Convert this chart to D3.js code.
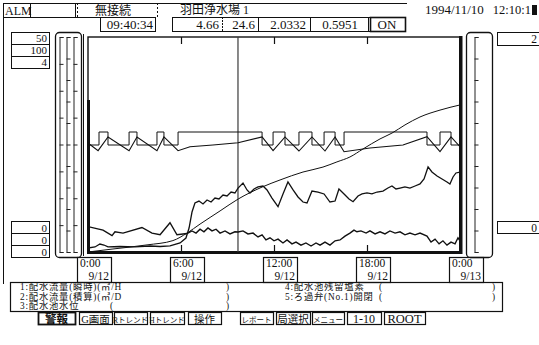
<!DOCTYPE html>
<html><head><meta charset="utf-8">
<script src="https://cdn.jsdelivr.net/npm/d3@7"></script>
<style>
body{margin:0;background:#fff;}
svg{display:block;}
text{font-family:"Liberation Serif","Noto Sans CJK JP",serif;fill:#111;}
</style></head><body>
<svg id="c" width="539" height="345"></svg>
<script>
// ---------------- data ----------------
const timeTicks = [0, 6, 12, 18, 24];
const timeLabels = ["0:00", "6:00", "12:00", "18:00", "0:00"];
const dateLabels = ["9/12", "9/12", "9/12", "9/12", "9/13"];
const cursorHour = 9 + 40 / 60 + 34 / 3600;
const cursorText = "09:40:34";
const cursorValues = ["4.66", "24.6", "2.0332", "0.5951", "ON"];
const headerDate = "1994/11/10";
const headerTime = "12:10:1";
const stationName = "羽田浄水場 1";
const linkStatus = "無接続";
const leftMax = [50, 100, 4];
const leftMin = [0, 0, 0];
const rightMax = [2];
const rightMin = [0];
const legendLeft = ["1:配水流量(瞬時)(㎥/H", "2:配水流量(積算)(㎥/D", "3:配水池水位"];
const legendRight = ["4:配水池残留塩素", "5:ろ過弁(No.1)開閉"];
const buttons = ["警報", "G画面", "Rトレンド", "Hトレンド", "操作", "レポート", "局選択", "メニュー", "1-10", "ROOT"];

// 1: instantaneous flow (0-50)
const flowInstant = [[0,5.9],[0.97,5.1],[1.55,3.8],[1.74,4.7],[2.26,4.4],[3.48,5.7],[4.13,4.4],[4.65,4.0],[5.29,6.8],[5.74,4.0],[6.39,4.3],[6.71,4.9],[6.97,4.4],[7.23,5.3],[7.48,4.7],[7.74,5.6],[8.0,4.9],[8.26,5.3],[8.52,4.4],[8.84,4.9],[9.16,4.2],[9.48,4.7],[9.68,4.66],[10.0,4.9],[10.32,4.2],[10.65,4.4],[10.97,3.5],[11.23,4.0],[11.48,2.8],[11.74,3.3],[12.0,2.6],[12.26,3.0],[12.58,2.1],[12.84,2.8],[13.16,1.9],[13.42,2.3],[13.74,1.6],[14.06,2.1],[14.39,1.4],[14.71,2.1],[14.97,1.6],[15.29,2.3],[15.61,1.6],[15.94,2.6],[16.26,2.8],[16.58,3.7],[16.9,4.4],[17.16,5.1],[17.35,4.7],[17.61,4.9],[17.94,4.4],[18.19,4.9],[18.52,4.2],[18.84,4.7],[19.16,4.2],[19.48,4.9],[19.81,4.4],[20.13,4.7],[20.45,4.0],[20.77,4.4],[21.1,4.0],[21.42,4.4],[21.87,3.7],[22.13,2.3],[22.39,3.0],[22.65,1.9],[22.9,2.6],[23.16,1.6],[23.42,2.3],[23.68,1.9],[23.87,3.3],[24,2.6]];
// 2: totalised flow (0-100)
const flowTotal = [[0,0],[1.61,1.4],[3.81,3.3],[5.48,5.3],[6.39,8.8],[7.23,13.0],[8.52,19.1],[9.68,24.6],[11.23,30.2],[12.39,33.5],[13.87,37.2],[15.16,39.5],[16.06,41.9],[16.9,44.2],[17.74,47.9],[18.84,52.6],[19.61,55.3],[20.45,59.1],[21.42,62.8],[22.71,66.0],[24,68.4]];
// 3: reservoir level (0-4)
const reservoirLevel = [[0,2.028],[0.65,1.885],[1.29,2.14],[2.65,1.885],[3.16,2.14],[4.45,1.885],[4.9,2.14],[5.81,1.885],[6.58,1.959],[8.06,1.991],[9.68,2.033],[11.23,2.14],[11.94,1.885],[12.71,2.14],[13.61,1.879],[14.45,2.14],[15.29,1.879],[15.94,2.14],[16.52,1.866],[18.19,1.935],[20.32,1.991],[21.87,2.145],[22.71,1.866],[23.42,2.14],[24,1.959]];
// 4: residual chlorine (0-2)
const chlorine = [[0,0.037],[0.45,0.047],[0.77,0.074],[1.03,0.065],[1.29,0.047],[2.06,0.051],[3.03,0.047],[4.0,0.056],[4.65,0.051],[5.29,0.056],[5.94,0.084],[6.32,0.13],[6.52,0.223],[6.71,0.372],[6.9,0.456],[7.16,0.474],[7.42,0.447],[7.68,0.484],[7.94,0.465],[8.19,0.502],[8.45,0.493],[8.71,0.53],[8.97,0.521],[9.23,0.558],[9.48,0.549],[9.68,0.595],[10.0,0.642],[10.26,0.577],[10.45,0.549],[10.71,0.586],[10.97,0.605],[11.29,0.614],[11.55,0.577],[11.87,0.502],[12.26,0.421],[12.58,0.54],[12.9,0.651],[13.23,0.577],[13.55,0.512],[13.87,0.465],[14.13,0.456],[14.45,0.567],[14.84,0.558],[15.23,0.54],[15.61,0.465],[15.94,0.474],[16.19,0.586],[16.52,0.54],[16.84,0.493],[17.1,0.468],[17.42,0.521],[17.68,0.54],[18.0,0.549],[18.32,0.54],[18.65,0.558],[19.03,0.567],[19.35,0.595],[19.61,0.614],[19.87,0.586],[20.13,0.595],[20.45,0.605],[20.77,0.595],[21.1,0.614],[21.42,0.633],[21.68,0.679],[21.94,0.791],[22.19,0.744],[22.52,0.707],[22.84,0.679],[23.16,0.651],[23.35,0.633],[23.55,0.698],[23.74,0.735],[24,0.744]];
// 5: filter valve open/close (0/1)
const valveState = [[0,0],[0.71,1],[1.29,0],[2.65,1],[3.16,0],[4.45,1],[4.9,0],[5.81,1],[11.23,0],[11.94,1],[12.71,0],[13.61,1],[14.45,0],[15.23,1],[15.94,0],[16.52,1],[21.87,0],[22.71,1],[23.42,0],[24,0]];

// ---------------- drawing ----------------
const svg = d3.select("#c");
const P = {l: 88, r: 460, t: 37, b: 252};
const ink = "#111";

const x = d3.scaleLinear().domain([0, 24]).range([P.l, P.r]);
const yFlow = d3.scaleLinear().domain([leftMin[0], leftMax[0]]).range([P.b, P.t]);
const yTotal = d3.scaleLinear().domain([leftMin[1], leftMax[1]]).range([P.b, P.t]);
const yLevel = d3.scaleLinear().domain([leftMin[2], leftMax[2]]).range([P.b, P.t]);
const yChl = d3.scaleLinear().domain([rightMin[0], rightMax[0]]).range([P.b, P.t]);
const yValve = d3.scaleLinear().domain([0, 1]).range([145, 132]);

function box(g, x0, y0, w, h, sw) {
  return g.append("rect").attr("x", x0 + 0.5).attr("y", y0 + 0.5).attr("width", w).attr("height", h)
    .attr("fill", "none").attr("stroke", ink).attr("stroke-width", sw || 1);
}
function hl(g, x1, x2, yy, sw, dash) {
  const l = g.append("line").attr("x1", x1).attr("x2", x2).attr("y1", yy + 0.5).attr("y2", yy + 0.5)
    .attr("stroke", ink).attr("stroke-width", sw || 1);
  if (dash) l.attr("stroke-dasharray", dash);
  return l;
}
function vl(g, xx, y1, y2, sw, dash) {
  const l = g.append("line").attr("x1", xx + 0.5).attr("x2", xx + 0.5).attr("y1", y1).attr("y2", y2)
    .attr("stroke", ink).attr("stroke-width", sw || 1);
  if (dash) l.attr("stroke-dasharray", dash);
  return l;
}
function txt(g, s, xx, yy, size, anchor) {
  return g.append("text").attr("x", xx).attr("y", yy).attr("font-size", size)
    .attr("text-anchor", anchor || "start").text(s);
}

// ---- header ----
const hd = svg.append("g");
vl(hd, 3, 3, 284, 1);
hl(hd, 3, 407, 3, 1);
box(hd, 3, 3, 27, 14);
txt(hd, "ALM", 5, 15, 12);
vl(hd, 75, 3, 17, 1);
vl(hd, 77, 3, 17, 1, "2,2");
vl(hd, 157, 3, 17, 1, "2,2");
hl(hd, 3, 100, 17, 1);
txt(hd, linkStatus, 95, 14.5, 12);
txt(hd, stationName, 180, 14, 12);
txt(hd, headerDate, 425, 14, 13);
txt(hd, headerTime, 531, 14, 12.5, "end");
hd.append("rect").attr("x", 532).attr("y", 5).attr("width", 5).attr("height", 10).attr("fill", ink);

// cursor value row
box(hd, 100, 17, 55, 14);
txt(hd, cursorText, 153, 29, 13, "end");
box(hd, 172, 17, 233, 14);
const valEnds = [219, 255, 306, 358];
const seps = [[222, "2,1"], [258, null], [310, null], [368, null]];
seps.forEach(s => vl(hd, s[0], 17, 32, 1, s[1]));
cursorValues.slice(0, 4).forEach((v, i) => txt(hd, v, valEnds[i], 29, 13, "end"));
box(hd, 370, 17, 35, 14, 1.6);
txt(hd, cursorValues[4], 387, 29, 13, "middle");

// ---- left / right scale value boxes ----
const lb = svg.append("g");
leftMax.forEach((v, i) => { box(lb, 11, 32 + i * 12, 38, 12); txt(lb, v, 47, 42 + i * 12, 11, "end"); });
leftMin.forEach((v, i) => { box(lb, 11, 221 + i * 12, 38, 12); txt(lb, v, 47, 231.5 + i * 12, 11, "end"); });
rightMax.forEach((v, i) => { box(lb, 497, 32 + i * 13, 50, 13); txt(lb, v, 537, 43 + i * 13, 11.5, "end"); });
rightMin.forEach((v, i) => { box(lb, 497, 221 + i * 12, 50, 12); txt(lb, v, 537, 231.5 + i * 12, 11.5, "end"); });

// ---- axis panels ----
const ap = svg.append("g");
ap.append("rect").attr("x", 55.5).attr("y", 32.5).attr("width", 26).attr("height", 225).attr("rx", 4)
  .attr("fill", "none").attr("stroke", ink).attr("stroke-width", 1.3);
ap.append("rect").attr("x", 466.5).attr("y", 32.5).attr("width", 26).attr("height", 225).attr("rx", 4)
  .attr("fill", "none").attr("stroke", ink).attr("stroke-width", 1.3);
const leftScales = [yFlow, yTotal, yLevel];
const leftDivs = [8, 10, 8];
const leftAxX = [59.5, 66.5, 73.5];
leftScales.forEach((s, i) => {
  const d = s.domain();
  const tv = d3.range(0, leftDivs[i] + 1).map(k => d[0] + (d[1] - d[0]) * k / leftDivs[i]);
  const g = ap.append("g").attr("transform", `translate(${leftAxX[i]},0)`)
    .call(d3.axisRight(s).tickValues(tv).tickSize(4).tickSizeOuter(4).tickFormat(""));
  g.selectAll("path,line").attr("stroke", "#222").attr("stroke-width", 1);
});
{
  const d = yChl.domain();
  const tv = d3.range(0, 11).map(k => d[0] + (d[1] - d[0]) * k / 10);
  const g = ap.append("g").attr("transform", "translate(474.5,0)")
    .call(d3.axisRight(yChl).tickValues(tv).tickSize(4).tickSizeOuter(4).tickFormat(""));
  g.selectAll("path,line").attr("stroke", "#222").attr("stroke-width", 1);
}

// ---- plot ----
const pg = svg.append("g");
pg.append("rect").attr("x", P.l).attr("y", P.t).attr("width", P.r - P.l).attr("height", P.b - P.t)
  .attr("fill", "none").attr("stroke", ink).attr("stroke-width", 1.4);
vl(pg, 83, 34, 256, 1);
pg.append("rect").attr("x", P.l - 1).attr("y", 100).attr("width", 3).attr("height", P.b - 100).attr("fill", ink);
pg.append("rect").attr("x", P.r - 1).attr("y", P.t - 1).attr("width", 3.5).attr("height", P.b - P.t + 3).attr("fill", ink);
pg.append("rect").attr("x", P.l - 1).attr("y", P.b - 1).attr("width", P.r - P.l + 3).attr("height", 3).attr("fill", ink);

const inner = [6, 12, 18];
pg.append("g").attr("transform", `translate(0,${P.t})`)
  .call(d3.axisBottom(x).tickValues(inner).tickSize(7).tickFormat(""))
  .call(g => g.select(".domain").remove()).selectAll("line").attr("stroke", ink).attr("stroke-width", 1.2);
pg.append("g").attr("transform", `translate(0,${P.b})`)
  .call(d3.axisTop(x).tickValues(inner).tickSize(7).tickFormat(""))
  .call(g => g.select(".domain").remove()).selectAll("line").attr("stroke", ink).attr("stroke-width", 1.2);

pg.append("line").attr("x1", x(cursorHour)).attr("x2", x(cursorHour)).attr("y1", P.t).attr("y2", P.b)
  .attr("stroke", "#3a3a3a").attr("stroke-width", 1.2);

svg.append("clipPath").attr("id", "clp").append("rect")
  .attr("x", P.l).attr("y", P.t).attr("width", P.r - P.l).attr("height", P.b - P.t);
const lg = svg.append("g").attr("clip-path", "url(#clp)");
const mk = (ys, curve) => d3.line().x(d => x(d[0])).y(d => ys(d[1])).curve(curve || d3.curveLinear);
lg.append("path").attr("d", mk(yValve, d3.curveStepAfter)(valveState)).attr("fill", "none").attr("stroke", ink).attr("stroke-width", 1);
lg.append("path").attr("d", mk(yLevel)(reservoirLevel)).attr("fill", "none").attr("stroke", ink).attr("stroke-width", 1.1);
lg.append("path").attr("d", mk(yTotal, d3.curveMonotoneX)(flowTotal)).attr("fill", "none").attr("stroke", ink).attr("stroke-width", 1);
lg.append("path").attr("d", mk(yChl)(chlorine)).attr("fill", "none").attr("stroke", ink).attr("stroke-width", 1.3);
lg.append("path").attr("d", mk(yFlow)(flowInstant)).attr("fill", "none").attr("stroke", ink).attr("stroke-width", 1.4);

// ---- time labels ----
const tl = svg.append("g");
timeTicks.forEach((t, i) => {
  const cx = x(t);
  box(tl, cx - 11, 257, 34, 25, 1.2);
  txt(tl, timeLabels[i], cx - 8, 266.5, 11.5);
  txt(tl, dateLabels[i], cx + 21, 279.8, 11.5, "end");
});

// ---- legend ----
const lgd = svg.append("g");
const LF = 9.3, L0 = 290, LS = 9.5;
box(lgd, 10, 282, 492, 29, 1.2);
legendLeft.forEach((s, i) => txt(lgd, s, 20, L0 + i * LS, LF).attr("letter-spacing", 0.8));
[0, 1, 2].forEach(i => txt(lgd, ")", 226, L0 + i * LS, LF));
txt(lgd, "(", 110, L0 + 2 * LS, LF);
legendRight.forEach((s, i) => {
  txt(lgd, s, 285, L0 + i * LS, LF).attr("letter-spacing", 0.8);
  txt(lgd, "(", 379, L0 + i * LS, LF);
  txt(lgd, ")", 492, L0 + i * LS, LF);
});

// ---- buttons ----
const bx = [[38, 37], [79, 33], [114, 33], [150, 34], [188, 33], [240, 33], [276, 34], [312, 32], [347, 34], [384, 41]];
const bsz = [11.5, 10.5, 7.5, 7.5, 10.5, 7.5, 10.5, 7.5, 12, 12.5];
const bt = svg.append("g");
buttons.forEach((b, i) => {
  box(bt, bx[i][0], 312, bx[i][1], 12, i === 0 ? 1.8 : 1.2);
  const t = txt(bt, b, bx[i][0] + bx[i][1] / 2, 322.5, bsz[i], "middle");
  if (i === 0) t.attr("font-weight", "bold");
});
</script>
</body></html>
